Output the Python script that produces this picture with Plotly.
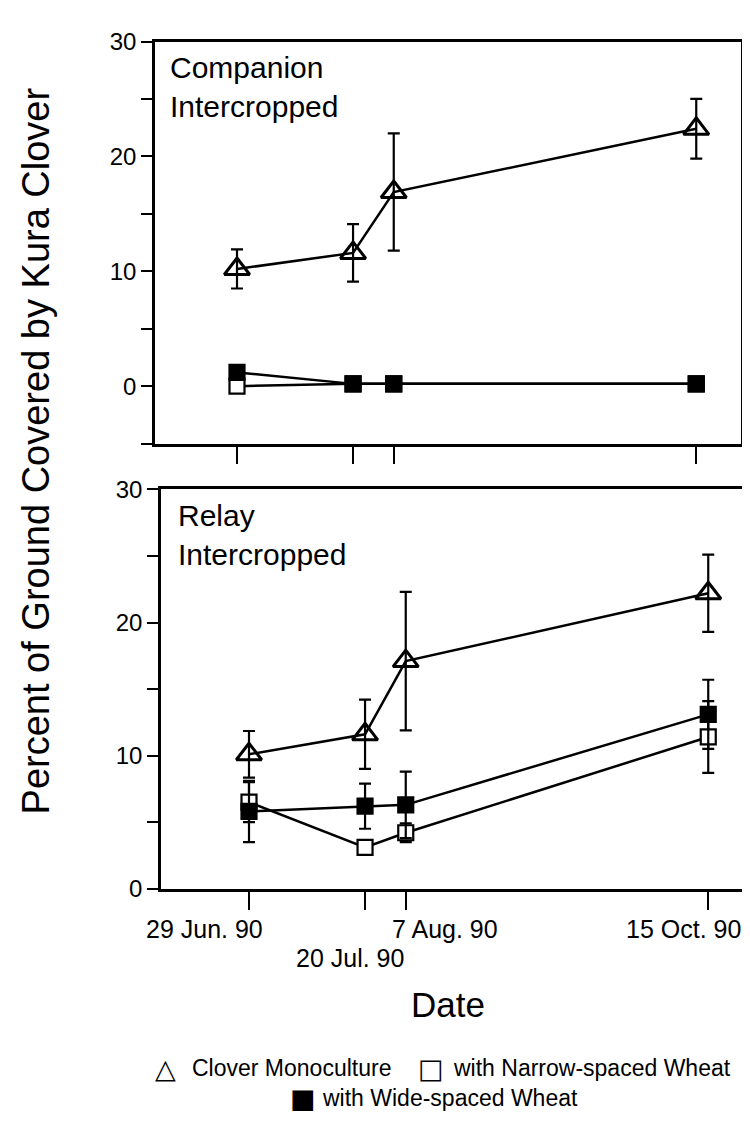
import plotly.graph_objects as go

# ---------------- data ----------------
dates = ["29 Jun. 90", "20 Jul. 90", "7 Aug. 90", "15 Oct. 90"]
x_pos = [0, 21.1, 28.5, 83.5]  # sampling positions along the x axis

# Companion intercropped (top panel)
comp_mono = [10.2, 11.6, 16.9, 22.4]
comp_mono_err = [1.7, 2.5, 5.1, 2.6]
comp_narrow = [0.0, 0.2, 0.2, 0.2]
comp_wide = [1.2, 0.2, 0.2, 0.2]

# Relay intercropped (bottom panel)
relay_mono = [10.1, 11.6, 17.1, 22.2]
relay_mono_err = [1.75, 2.6, 5.2, 2.9]
relay_narrow = [6.5, 3.1, 4.2, 11.4]
relay_narrow_err = [1.5, 0.5, 0.7, 2.7]
relay_wide = [5.8, 6.2, 6.3, 13.1]
relay_wide_err = [2.3, 1.7, 2.5, 2.6]

y_ticks_top = [-5, 0, 5, 10, 15, 20, 25, 30]
y_ticks_bot = [0, 5, 10, 15, 20, 25, 30]

W, H = 750, 1123
FONT = "Liberation Sans, Arial, Helvetica, sans-serif"


def px(x):
    return x / W


def py(y):
    return 1 - y / H


fig = go.Figure()

line_style = dict(color="black", width=2.5)
err_style = dict(color="black", thickness=2.2, width=6)


def add_series(y, err, symbol, fill, xa, ya, size, lw):
    kw = {}
    if err is not None:
        kw["error_y"] = dict(type="data", array=err, visible=True, **err_style)
    fig.add_trace(go.Scatter(
        x=x_pos, y=y, mode="lines+markers", xaxis=xa, yaxis=ya,
        line=line_style,
        marker=dict(symbol=symbol, size=size, color=fill,
                    line=dict(color="black", width=lw)),
        showlegend=False, cliponaxis=False, **kw))


# top panel
add_series(comp_mono, comp_mono_err, "triangle-up-open", "black", "x", "y", 22, 3)
add_series(comp_narrow, None, "square", "white", "x", "y", 15, 2.2)
add_series(comp_wide, None, "square", "black", "x", "y", 15, 2.2)
# bottom panel
add_series(relay_mono, relay_mono_err, "triangle-up-open", "black", "x2", "y2", 22, 3)
add_series(relay_narrow, relay_narrow_err, "square", "white", "x2", "y2", 15, 2.2)
add_series(relay_wide, relay_wide_err, "square", "black", "x2", "y2", 15, 2.2)

axis_common = dict(showline=True, linecolor="black", linewidth=2.5, mirror=True,
                   ticks="outside", tickcolor="black", tickwidth=2,
                   showgrid=False, zeroline=False)

fig.update_layout(
    width=W, height=H, margin=dict(l=0, r=0, t=0, b=0),
    paper_bgcolor="white", plot_bgcolor="white",
    font=dict(family=FONT, color="black"),
    xaxis=dict(domain=[px(147), px(733)], range=[-82 / 5.5, (586 - 82) / 5.5],
               tickvals=x_pos, ticktext=["", "", "", ""], ticklen=18,
               anchor="y", **axis_common),
    yaxis=dict(domain=[py(432), py(20)], range=[-5, 30], tickvals=y_ticks_top,
               ticktext=[str(v) if v % 10 == 0 else "" for v in y_ticks_top],
               ticklen=11, tickfont=dict(size=24), anchor="x", **axis_common),
    xaxis2=dict(domain=[px(153), px(743)], range=[-88 / 5.5, (590 - 88) / 5.5],
                tickvals=x_pos, ticktext=["", "", "", ""], ticklen=19,
                anchor="y2", **axis_common),
    yaxis2=dict(domain=[py(888), py(479)], range=[0, 30], tickvals=y_ticks_bot,
                ticktext=[str(v) if v % 10 == 0 else "" for v in y_ticks_bot],
                ticklen=11, tickfont=dict(size=24), anchor="x2", **axis_common),
)

ann = []
# panel labels
ann.append(dict(text="Companion<br>Intercropped", xref="paper", yref="paper",
                x=px(160), y=py(28), xanchor="left", yanchor="top", align="left",
                showarrow=False, font=dict(size=30)))
ann.append(dict(text="Relay<br>Intercropped", xref="paper", yref="paper",
                x=px(168), y=py(487), xanchor="left", yanchor="top", align="left",
                showarrow=False, font=dict(size=30)))

# date labels under bottom axis
label_shift = [-45, -15, 39, -25]
label_row_y = [929, 959, 929, 929]
for d, xv, sh, yy in zip(dates, x_pos, label_shift, label_row_y):
    ann.append(dict(text=d, xref="x2", yref="paper", x=xv, xshift=sh, y=py(yy),
                    xanchor="center", yanchor="middle", showarrow=False,
                    font=dict(size=25)))

# axis titles
ann.append(dict(text="Date", xref="paper", yref="paper", x=px(440), y=py(1007),
                xanchor="center", yanchor="middle", showarrow=False,
                font=dict(size=35)))
ann.append(dict(text="Percent of Ground Covered by Kura Clover", xref="paper",
                yref="paper", x=px(28), y=py(440), xanchor="center",
                yanchor="middle", textangle=-90, showarrow=False,
                font=dict(size=38)))

# legend
legend_items = [
    ("△", "Clover Monoculture", 145, 182, 1072),
    ("□", "with Narrow-spaced Wheat", 408, 443, 1072),
    ("■", "with Wide-spaced Wheat", 280, 312, 1103),
]
for sym, txt, xs, xt, yy in legend_items:
    ann.append(dict(text=sym, xref="paper", yref="paper", x=px(xs), y=py(yy),
                    xanchor="left", yanchor="middle", showarrow=False,
                    font=dict(size=27, family="DejaVu Sans")))
    ann.append(dict(text=txt, xref="paper", yref="paper", x=px(xt), y=py(yy),
                    xanchor="left", yanchor="middle", showarrow=False,
                    font=dict(size=23)))

fig.update_layout(annotations=ann)
fig.write_html("out.html")
